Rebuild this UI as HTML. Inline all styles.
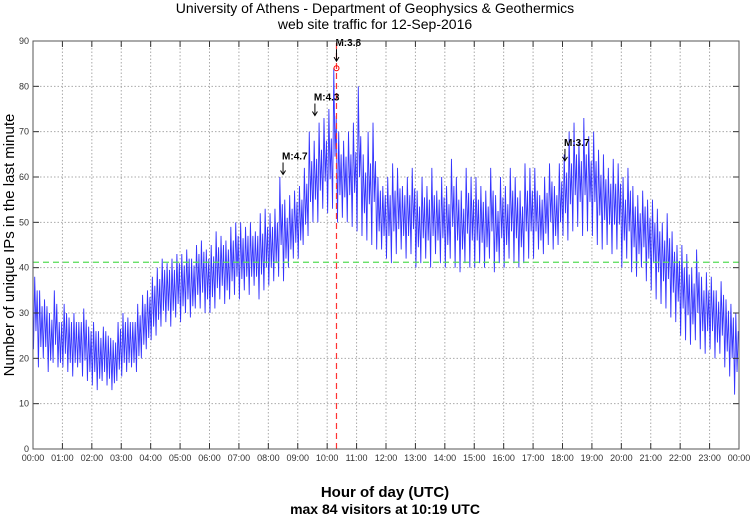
<!DOCTYPE html>
<html><head><meta charset="utf-8"><style>
body{margin:0;background:#fff;}
svg text{font-family:"Liberation Sans",sans-serif;}
</style></head><body>
<svg id="chart" width="750" height="515" viewBox="0 0 750 515" xmlns="http://www.w3.org/2000/svg">
<text x="375" y="13" text-anchor="middle" font-size="14">University of Athens - Department of Geophysics &amp; Geothermics</text>
<text x="375" y="29" text-anchor="middle" font-size="14">web site traffic for 12-Sep-2016</text>
<g id="grid"></g>
<g id="series"></g>
<g id="annot"></g>
<g id="axes"></g>
<text transform="translate(14,245) rotate(-90)" text-anchor="middle" font-size="15">Number of unique IPs in the last minute</text>
<text x="385" y="497" text-anchor="middle" font-size="15" font-weight="bold">Hour of day (UTC)</text>
<text x="385" y="514" text-anchor="middle" font-size="14" font-weight="bold">max 84 visitors at 10:19 UTC</text>
</svg>
<script>
const hourLabels=["00:00","01:00","02:00","03:00","04:00","05:00","06:00","07:00","08:00","09:00","10:00","11:00","12:00","13:00","14:00","15:00","16:00","17:00","18:00","19:00","20:00","21:00","22:00","23:00","00:00"];
const yTicks=[0,10,20,30,40,50,60,70,80,90];
const highs=[38,35,33,30,35,28, 32,29,30,28,31,27, 28,26,27,25,24,28, 30,29,28,32,34,35,
38,40,42,41,42,43, 43,44,42,45,46,44, 45,48,47,46,49,50, 50,49,50,48,52,53,
52,53,60,55,56,57, 58,62,70,68,72,73, 75,84,70,68,70,72, 80,65,70,72,60,58,
60,63,62,58,60,62, 57,60,58,62,57,60, 58,64,60,57,62,60, 60,58,57,62,56,60,
58,62,60,57,63,62, 62,56,60,63,58,63, 65,70,72,68,73,69, 70,66,65,62,64,63,
60,62,58,56,57,55, 55,53,50,52,48,45, 45,43,40,44,38,39, 38,35,37,33,32,30];
const lows=[22,18,20,17,19,18, 18,17,16,18,16,15, 14,13,15,14,13,15, 16,17,18,17,20,22,
24,25,27,28,27,29, 28,30,29,31,31,30, 30,31,33,32,33,34, 33,35,34,36,33,35,
36,37,38,37,40,42, 42,45,47,50,50,53, 52,53,50,51,50,49, 48,47,46,45,44,44,
42,41,43,44,42,43, 40,41,42,40,43,41, 40,42,40,39,41,40, 40,41,40,42,39,41,
40,42,41,40,41,42, 42,44,43,45,44,45, 47,46,48,49,47,48, 47,45,44,45,43,44,
40,42,39,38,40,37, 35,33,32,31,29,28, 25,24,23,24,22,21, 22,20,21,18,16,12];
const meanValue=41.2;
const maxMinute=619, maxValue=84;
const quakeLabels=["M:4.7","M:4.3","M:3.8","M:3.7"];
const quakeMinutes=[510,575,619,1085];
const quakeValues=[61,74,86,64];

const NS="http://www.w3.org/2000/svg";
const X0=33,X1=739,Y0=449,Y1=41;
const xs=m=>X0+(X1-X0)*m/1440;
const ys=v=>Y0-(Y0-Y1)*v/90;
function mk(tag,attrs,parent){const e=document.createElementNS(NS,tag);for(const k in attrs)e.setAttribute(k,attrs[k]);parent.appendChild(e);return e;}
const grid=document.getElementById('grid'),axes=document.getElementById('axes'),series=document.getElementById('series'),annot=document.getElementById('annot');

yTicks.forEach(v=>{
  const l=mk('line',{x1:X0,x2:X1,y1:ys(v),y2:ys(v),stroke:'#aaa','stroke-dasharray':'1.5,2','stroke-width':1},grid);
  
  
  const t=mk('text',{x:X0-4,y:ys(v)+3,'text-anchor':'end','font-size':9,fill:'#333'},axes);
  t.textContent=v;
  
  
  mk('line',{x1:X0,x2:X0+6,y1:ys(v),y2:ys(v),stroke:'#333'},axes);
  mk('line',{x1:X1,x2:X1-6,y1:ys(v),y2:ys(v),stroke:'#333'},axes);
});
hourLabels.forEach((h,i)=>{
  const x=xs(i*60);
  if(i>0&&i<24){
    const l=mk('line',{x1:x,x2:x,y1:Y1,y2:Y0,stroke:'#aaa','stroke-dasharray':'1.5,2','stroke-width':1},grid);
    
    
  }
  const t=mk('text',{x:x,y:461,'text-anchor':'middle','font-size':9,fill:'#333'},axes);
  t.textContent=h;
  
  
  mk('line',{x1:x,x2:x,y1:Y0,y2:Y0-6,stroke:'#333'},axes);
  mk('line',{x1:x,x2:x,y1:Y1,y2:Y1+6,stroke:'#333'},axes);
});
const box=mk('rect',{x:X0,y:Y1,width:X1-X0,height:Y0-Y1,fill:'none',stroke:'#555','stroke-width':1},axes);



let pts=[];
for(let i=0;i<highs.length;i++){
  pts.push(xs(i*10+1)+','+ys(lows[i]));
  pts.push(xs(i*10+3.5)+','+ys(highs[i]));
  pts.push(xs(i*10+6)+','+ys((lows[i]+highs[i])/2-4));
  pts.push(xs(i*10+8.5)+','+ys((lows[i]+highs[i])/2+5));
}
const pl=mk('polyline',{points:pts.join(' '),fill:'none',stroke:'#1010ff','stroke-width':0.9,'stroke-opacity':0.85},series);



const ml=mk('line',{x1:X0,x2:X1,y1:ys(meanValue),y2:ys(meanValue),stroke:'#5d5','stroke-dasharray':'6,4','stroke-width':1.2},annot);


const rl=mk('line',{x1:xs(maxMinute),x2:xs(maxMinute),y1:Y0,y2:Y1,stroke:'#f33','stroke-dasharray':'6,4','stroke-width':1.2},annot);


const mc=mk('circle',{cx:xs(maxMinute),cy:ys(maxValue),r:2.5,fill:'none',stroke:'#f00'},annot);



quakeLabels.forEach((lab,i)=>{
  const x=xs(quakeMinutes[i]),y=ys(quakeValues[i]);
  const t=mk('text',{x:x-1,y:y-13,'font-size':10,'font-weight':'bold',fill:'#000'},annot);
  t.textContent=lab;
  
  
  mk('line',{x1:x,x2:x,y1:y-10,y2:y+2,stroke:'#000'},annot);
  mk('path',{d:`M${x-2.5},${y-2} L${x},${y+2} L${x+2.5},${y-2}`,fill:'none',stroke:'#000'},annot);
});
</script>
</body></html>
